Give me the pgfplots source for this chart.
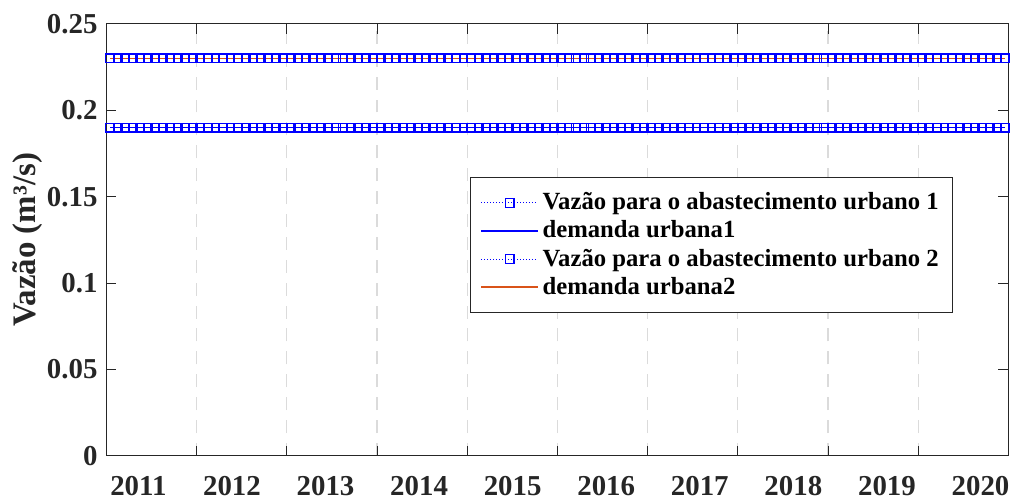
\documentclass[border=0pt]{standalone}
\usepackage{fontspec}
\setmainfont{Liberation Serif}
\usepackage{pgfplots}
\usepackage{pgfplotstable}
\pgfplotsset{compat=1.18}
\definecolor{axgray}{rgb}{0.15,0.15,0.15}
\definecolor{mlorange}{rgb}{0.85,0.325,0.098}
\definecolor{gridgray}{rgb}{0.86,0.86,0.86}
\pgfplotstableread{
m v1 d1 v2 d2
1 0.19 0.19 0.23 0.23
2 0.19 0.19 0.23 0.23
3 0.19 0.19 0.23 0.23
4 0.19 0.19 0.23 0.23
5 0.19 0.19 0.23 0.23
6 0.19 0.19 0.23 0.23
7 0.19 0.19 0.23 0.23
8 0.19 0.19 0.23 0.23
9 0.19 0.19 0.23 0.23
10 0.19 0.19 0.23 0.23
11 0.19 0.19 0.23 0.23
12 0.19 0.19 0.23 0.23
13 0.19 0.19 0.23 0.23
14 0.19 0.19 0.23 0.23
15 0.19 0.19 0.23 0.23
16 0.19 0.19 0.23 0.23
17 0.19 0.19 0.23 0.23
18 0.19 0.19 0.23 0.23
19 0.19 0.19 0.23 0.23
20 0.19 0.19 0.23 0.23
21 0.19 0.19 0.23 0.23
22 0.19 0.19 0.23 0.23
23 0.19 0.19 0.23 0.23
24 0.19 0.19 0.23 0.23
25 0.19 0.19 0.23 0.23
26 0.19 0.19 0.23 0.23
27 0.19 0.19 0.23 0.23
28 0.19 0.19 0.23 0.23
29 0.19 0.19 0.23 0.23
30 0.19 0.19 0.23 0.23
31 0.19 0.19 0.23 0.23
32 0.19 0.19 0.23 0.23
33 0.19 0.19 0.23 0.23
34 0.19 0.19 0.23 0.23
35 0.19 0.19 0.23 0.23
36 0.19 0.19 0.23 0.23
37 0.19 0.19 0.23 0.23
38 0.19 0.19 0.23 0.23
39 0.19 0.19 0.23 0.23
40 0.19 0.19 0.23 0.23
41 0.19 0.19 0.23 0.23
42 0.19 0.19 0.23 0.23
43 0.19 0.19 0.23 0.23
44 0.19 0.19 0.23 0.23
45 0.19 0.19 0.23 0.23
46 0.19 0.19 0.23 0.23
47 0.19 0.19 0.23 0.23
48 0.19 0.19 0.23 0.23
49 0.19 0.19 0.23 0.23
50 0.19 0.19 0.23 0.23
51 0.19 0.19 0.23 0.23
52 0.19 0.19 0.23 0.23
53 0.19 0.19 0.23 0.23
54 0.19 0.19 0.23 0.23
55 0.19 0.19 0.23 0.23
56 0.19 0.19 0.23 0.23
57 0.19 0.19 0.23 0.23
58 0.19 0.19 0.23 0.23
59 0.19 0.19 0.23 0.23
60 0.19 0.19 0.23 0.23
61 0.19 0.19 0.23 0.23
62 0.19 0.19 0.23 0.23
63 0.19 0.19 0.23 0.23
64 0.19 0.19 0.23 0.23
65 0.19 0.19 0.23 0.23
66 0.19 0.19 0.23 0.23
67 0.19 0.19 0.23 0.23
68 0.19 0.19 0.23 0.23
69 0.19 0.19 0.23 0.23
70 0.19 0.19 0.23 0.23
71 0.19 0.19 0.23 0.23
72 0.19 0.19 0.23 0.23
73 0.19 0.19 0.23 0.23
74 0.19 0.19 0.23 0.23
75 0.19 0.19 0.23 0.23
76 0.19 0.19 0.23 0.23
77 0.19 0.19 0.23 0.23
78 0.19 0.19 0.23 0.23
79 0.19 0.19 0.23 0.23
80 0.19 0.19 0.23 0.23
81 0.19 0.19 0.23 0.23
82 0.19 0.19 0.23 0.23
83 0.19 0.19 0.23 0.23
84 0.19 0.19 0.23 0.23
85 0.19 0.19 0.23 0.23
86 0.19 0.19 0.23 0.23
87 0.19 0.19 0.23 0.23
88 0.19 0.19 0.23 0.23
89 0.19 0.19 0.23 0.23
90 0.19 0.19 0.23 0.23
91 0.19 0.19 0.23 0.23
92 0.19 0.19 0.23 0.23
93 0.19 0.19 0.23 0.23
94 0.19 0.19 0.23 0.23
95 0.19 0.19 0.23 0.23
96 0.19 0.19 0.23 0.23
97 0.19 0.19 0.23 0.23
98 0.19 0.19 0.23 0.23
99 0.19 0.19 0.23 0.23
100 0.19 0.19 0.23 0.23
101 0.19 0.19 0.23 0.23
102 0.19 0.19 0.23 0.23
103 0.19 0.19 0.23 0.23
104 0.19 0.19 0.23 0.23
105 0.19 0.19 0.23 0.23
106 0.19 0.19 0.23 0.23
107 0.19 0.19 0.23 0.23
108 0.19 0.19 0.23 0.23
109 0.19 0.19 0.23 0.23
110 0.19 0.19 0.23 0.23
111 0.19 0.19 0.23 0.23
112 0.19 0.19 0.23 0.23
113 0.19 0.19 0.23 0.23
114 0.19 0.19 0.23 0.23
115 0.19 0.19 0.23 0.23
116 0.19 0.19 0.23 0.23
117 0.19 0.19 0.23 0.23
118 0.19 0.19 0.23 0.23
119 0.19 0.19 0.23 0.23
120 0.19 0.19 0.23 0.23
}\datatable
\begin{document}
\begin{tikzpicture}
\begin{axis}[
  scale only axis,
  width=453pt, height=217pt,
  xmin=0.5, xmax=120.5,
  ymin=0, ymax=0.25,
  axis line style={axgray, line width=0.5pt},
  every tick/.style={axgray, line width=0.5pt},
  major tick length=5pt,
  tick align=inside,
  xtick={12.5,24.5,36.5,48.5,60.5,72.5,84.5,96.5,108.5},
  xticklabels={},
  xmajorgrids=true,
  major grid style={gridgray, dash pattern=on 6.5pt off 5pt, line width=0.6pt},
  extra x ticks={4.74,17.19,29.64,42.09,54.54,66.99,79.44,91.89,104.34,116.79},
  extra x tick labels={2011,2012,2013,2014,2015,2016,2017,2018,2019,2020},
  extra x tick style={major tick length=0pt, grid=none, xticklabel style={yshift=-6.5pt}},
  ytick={0,0.05,0.1,0.15,0.2,0.25},
  yticklabels={0,0.05,0.1,0.15,0.2,0.25},
  tick label style={font=\bfseries\fontsize{14.5}{17}\selectfont, text=axgray},
  yticklabel style={xshift=-1pt},
  ylabel={Vazão (m³/s)},
  ylabel style={font=\bfseries\fontsize{16.5}{19}\selectfont, text=axgray, yshift=-4.5pt},
  legend style={at={(0.403,0.645)}, anchor=north west, draw=axgray, line width=0.5pt,
    font=\bfseries\fontsize{12.4}{15}\selectfont, inner xsep=5pt, inner ysep=5.5pt, row sep=0pt,
    legend cell align=left},
  legend image code/.code={\draw[mark repeat=2,mark phase=2,#1] plot coordinates {(0cm,0cm) (0.5cm,0cm) (1.0cm,0cm)};},
]
\addplot[blue, densely dotted, line width=0.5pt, mark=square, mark size=2.2pt, mark options={solid, line width=0.6pt}] table[x=m, y=v1] \datatable;
\addlegendentry{Vazão para o abastecimento urbano 1}
\addplot[blue, solid, line width=0.7pt] table[x=m, y=d1] \datatable;
\addlegendentry{demanda urbana1}
\addplot[blue, densely dotted, line width=0.5pt, mark=square, mark size=2.2pt, mark options={solid, line width=0.6pt}] table[x=m, y=v2] \datatable;
\addlegendentry{Vazão para o abastecimento urbano 2}
\addplot[mlorange, solid, line width=0.8pt] table[x=m, y=d2] \datatable;
\addlegendentry{demanda urbana2}
\end{axis}
\path ([xshift=-53.5pt,yshift=-21pt]current axis.south west) rectangle ([xshift=1.5pt,yshift=12pt]current axis.north east);
\end{tikzpicture}
\end{document}
